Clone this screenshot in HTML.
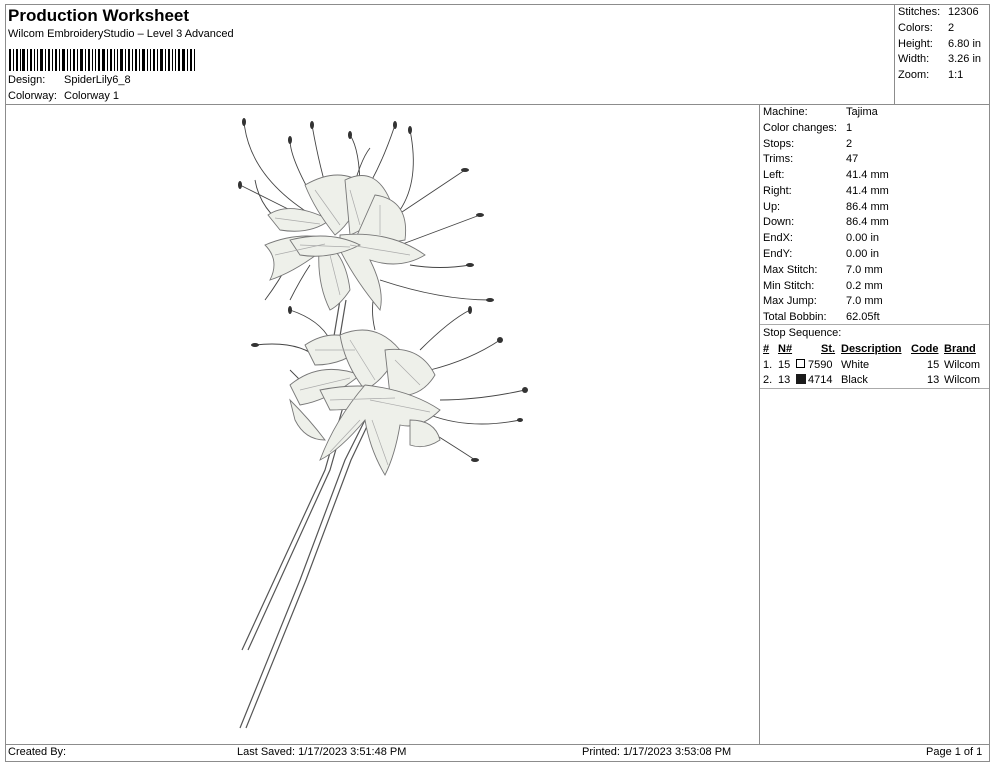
<!DOCTYPE html>
<html><head><meta charset="utf-8"><style>
body{margin:0;width:990px;height:762px;background:#fff;font-family:"Liberation Sans",Arial,sans-serif;color:#000;position:relative;overflow:hidden}
.a{position:absolute;white-space:nowrap;font-size:11px;line-height:13px}
.box{position:absolute;border:1px solid #8c8c8c;box-sizing:border-box}
.u{text-decoration:underline;font-weight:bold}
</style></head><body>
<div class="box" style="left:5px;top:4px;width:985px;height:101px"></div>
<div class="box" style="left:894px;top:4px;width:96px;height:101px"></div>
<div class="box" style="left:5px;top:104px;width:985px;height:641px"></div>
<div class="box" style="left:759px;top:104px;width:231px;height:641px"></div>
<div style="position:absolute;left:760px;top:324px;width:229px;height:1px;background:#aaa"></div>
<div style="position:absolute;left:760px;top:388px;width:229px;height:1px;background:#aaa"></div>
<div class="box" style="left:5px;top:744px;width:985px;height:18px"></div>

<div class="a" style="left:8px;top:6px;font-size:17px;line-height:20px;font-weight:bold">Production Worksheet</div>
<div class="a" style="left:8px;top:28px">Wilcom EmbroideryStudio – Level 3 Advanced</div>
<svg style="position:absolute;left:9px;top:49px" width="186" height="22">
<g fill="#000">
<rect x="0" width="2" height="22"/><rect x="4" width="1" height="22"/><rect x="7" width="2" height="22"/><rect x="11" width="1" height="22"/><rect x="13" width="3" height="22"/><rect x="18" width="1" height="22"/><rect x="21" width="2" height="22"/><rect x="25" width="1" height="22"/><rect x="28" width="1" height="22"/><rect x="31" width="3" height="22"/><rect x="36" width="1" height="22"/><rect x="39" width="2" height="22"/><rect x="43" width="1" height="22"/><rect x="46" width="2" height="22"/><rect x="50" width="1" height="22"/><rect x="53" width="3" height="22"/><rect x="58" width="1" height="22"/><rect x="61" width="1" height="22"/><rect x="64" width="2" height="22"/><rect x="68" width="1" height="22"/><rect x="71" width="3" height="22"/><rect x="76" width="1" height="22"/><rect x="79" width="2" height="22"/><rect x="83" width="1" height="22"/><rect x="86" width="1" height="22"/><rect x="89" width="2" height="22"/><rect x="93" width="3" height="22"/><rect x="98" width="1" height="22"/><rect x="101" width="2" height="22"/><rect x="105" width="1" height="22"/><rect x="108" width="1" height="22"/><rect x="111" width="3" height="22"/><rect x="116" width="1" height="22"/><rect x="119" width="2" height="22"/><rect x="123" width="1" height="22"/><rect x="126" width="2" height="22"/><rect x="130" width="1" height="22"/><rect x="133" width="3" height="22"/><rect x="138" width="1" height="22"/><rect x="141" width="1" height="22"/><rect x="144" width="2" height="22"/><rect x="148" width="1" height="22"/><rect x="151" width="3" height="22"/><rect x="156" width="1" height="22"/><rect x="159" width="2" height="22"/><rect x="163" width="1" height="22"/><rect x="166" width="1" height="22"/><rect x="169" width="2" height="22"/><rect x="173" width="3" height="22"/><rect x="178" width="1" height="22"/><rect x="181" width="2" height="22"/><rect x="185" width="1" height="22"/>
</g></svg>
<div class="a" style="left:8px;top:74px">Design:</div><div class="a" style="left:64px;top:74px">SpiderLily6_8</div>
<div class="a" style="left:8px;top:90px">Colorway:</div><div class="a" style="left:64px;top:90px">Colorway 1</div>

<div class="a" style="left:898px;top:6px">Stitches:</div><div class="a" style="left:948px;top:6px">12306</div>
<div class="a" style="left:898px;top:22px">Colors:</div><div class="a" style="left:948px;top:22px">2</div>
<div class="a" style="left:898px;top:38px">Height:</div><div class="a" style="left:948px;top:38px">6.80 in</div>
<div class="a" style="left:898px;top:53px">Width:</div><div class="a" style="left:948px;top:53px">3.26 in</div>
<div class="a" style="left:898px;top:69px">Zoom:</div><div class="a" style="left:948px;top:69px">1:1</div>

<div class="a" style="left:763px;top:106px">Machine:</div><div class="a" style="left:846px;top:106px">Tajima</div>
<div class="a" style="left:763px;top:122px">Color changes:</div><div class="a" style="left:846px;top:122px">1</div>
<div class="a" style="left:763px;top:138px">Stops:</div><div class="a" style="left:846px;top:138px">2</div>
<div class="a" style="left:763px;top:153px">Trims:</div><div class="a" style="left:846px;top:153px">47</div>
<div class="a" style="left:763px;top:169px">Left:</div><div class="a" style="left:846px;top:169px">41.4 mm</div>
<div class="a" style="left:763px;top:185px">Right:</div><div class="a" style="left:846px;top:185px">41.4 mm</div>
<div class="a" style="left:763px;top:201px">Up:</div><div class="a" style="left:846px;top:201px">86.4 mm</div>
<div class="a" style="left:763px;top:216px">Down:</div><div class="a" style="left:846px;top:216px">86.4 mm</div>
<div class="a" style="left:763px;top:232px">EndX:</div><div class="a" style="left:846px;top:232px">0.00 in</div>
<div class="a" style="left:763px;top:248px">EndY:</div><div class="a" style="left:846px;top:248px">0.00 in</div>
<div class="a" style="left:763px;top:264px">Max Stitch:</div><div class="a" style="left:846px;top:264px">7.0 mm</div>
<div class="a" style="left:763px;top:280px">Min Stitch:</div><div class="a" style="left:846px;top:280px">0.2 mm</div>
<div class="a" style="left:763px;top:295px">Max Jump:</div><div class="a" style="left:846px;top:295px">7.0 mm</div>
<div class="a" style="left:763px;top:311px">Total Bobbin:</div><div class="a" style="left:846px;top:311px">62.05ft</div>
<div class="a" style="left:763px;top:327px">Stop Sequence:</div>
<div class="a u" style="left:763px;top:343px">#</div><div class="a u" style="left:778px;top:343px">N#</div>
<div class="a u" style="left:821px;top:343px">St.</div><div class="a u" style="left:841px;top:343px">Description</div>
<div class="a u" style="left:911px;top:343px">Code</div><div class="a u" style="left:944px;top:343px">Brand</div>
<div class="a" style="left:763px;top:359px">1.</div><div class="a" style="left:778px;top:359px">15</div>
<div style="position:absolute;left:796px;top:359px;width:9px;height:9px;border:1px solid #000;box-sizing:border-box"></div>
<div class="a" style="left:808px;top:359px">7590</div><div class="a" style="left:841px;top:359px">White</div>
<div class="a" style="left:927px;top:359px">15</div><div class="a" style="left:944px;top:359px">Wilcom</div>
<div class="a" style="left:763px;top:374px">2.</div><div class="a" style="left:778px;top:374px">13</div>
<div style="position:absolute;left:796px;top:374px;width:10px;height:10px;background:#1a1a1a"></div>
<div class="a" style="left:808px;top:374px">4714</div><div class="a" style="left:841px;top:374px">Black</div>
<div class="a" style="left:927px;top:374px">13</div><div class="a" style="left:944px;top:374px">Wilcom</div>

<div class="a" style="left:8px;top:746px">Created By:</div>
<div class="a" style="left:237px;top:746px">Last Saved: 1/17/2023 3:51:48 PM</div>
<div class="a" style="left:582px;top:746px">Printed: 1/17/2023 3:53:08 PM</div>
<div class="a" style="left:926px;top:746px">Page 1 of 1</div>

<svg style="position:absolute;left:0;top:0" width="760" height="744">
<g stroke="#555" stroke-width="1.2" fill="none">
<path d="M242 650 L325 470 L345 400"/><path d="M248 650 L330 470 L350 400"/>
<path d="M240 728 L300 580 L345 460 L365 420"/><path d="M246 728 L306 580 L351 460 L370 420"/>
<path d="M340 300 L330 360"/><path d="M346 300 L336 360"/>
</g>
<g stroke="#444" stroke-width="0.9" fill="none">
<path d="M320 220 Q250 180 244 122"/><path d="M300 215 Q270 200 240 185"/><path d="M320 210 Q290 160 290 140"/>
<path d="M330 200 Q320 170 312 125"/><path d="M350 200 Q360 160 370 148"/><path d="M360 200 Q380 170 395 125"/>
<path d="M390 220 Q420 200 465 170"/><path d="M400 245 Q440 230 480 215"/><path d="M410 265 Q440 270 470 265"/>
<path d="M380 280 Q440 300 490 300"/><path d="M290 230 Q260 210 255 180"/><path d="M290 260 Q280 280 265 300"/>
<path d="M310 265 Q300 280 290 300"/><path d="M400 210 Q420 180 410 130"/><path d="M360 190 Q360 150 350 135"/>
<path d="M320 360 Q300 340 255 345"/><path d="M330 340 Q320 320 290 310"/><path d="M420 350 Q450 320 470 310"/>
<path d="M430 370 Q470 360 500 340"/><path d="M440 400 Q480 400 525 390"/><path d="M430 415 Q470 430 520 420"/>
<path d="M420 425 Q460 450 475 460"/><path d="M375 330 Q370 310 375 290"/><path d="M300 380 Q300 380 290 370"/>
</g>
<g fill="#333">
<ellipse cx="244" cy="122" rx="2" ry="4"/><ellipse cx="240" cy="185" rx="2" ry="4"/><ellipse cx="290" cy="140" rx="2" ry="4"/>
<ellipse cx="312" cy="125" rx="2" ry="4"/><ellipse cx="395" cy="125" rx="2" ry="4"/><ellipse cx="465" cy="170" rx="4" ry="2"/>
<ellipse cx="480" cy="215" rx="4" ry="2"/><ellipse cx="470" cy="265" rx="4" ry="2"/><ellipse cx="490" cy="300" rx="4" ry="2"/>
<ellipse cx="410" cy="130" rx="2" ry="4"/><ellipse cx="255" cy="345" rx="4" ry="2"/><ellipse cx="290" cy="310" rx="2" ry="4"/>
<ellipse cx="470" cy="310" rx="2" ry="4"/><ellipse cx="500" cy="340" rx="3" ry="3"/><ellipse cx="525" cy="390" rx="3" ry="3"/>
<ellipse cx="520" cy="420" rx="3" ry="2"/><ellipse cx="475" cy="460" rx="4" ry="2"/><ellipse cx="375" cy="290" rx="2" ry="4"/>
<ellipse cx="350" cy="135" rx="2" ry="4"/>
</g>
<g fill="#eef0ea" stroke="#777" stroke-width="0.9">
<path d="M268 215 Q290 200 330 220 Q310 235 280 230Z"/>
<path d="M265 245 Q300 230 335 240 Q300 270 270 280 Q280 260 265 245Z"/>
<path d="M305 185 Q340 165 365 185 Q355 220 335 235 Q315 210 305 185Z"/>
<path d="M345 180 Q375 165 390 200 Q375 225 350 235Z"/>
<path d="M375 195 Q410 200 405 240 Q380 245 355 240Z"/>
<path d="M340 235 Q390 230 425 255 Q400 270 370 260 Q385 290 380 310 Q355 280 340 250Z"/>
<path d="M320 240 Q345 250 350 290 Q340 305 330 310 Q315 280 320 240Z"/>
<path d="M290 240 Q330 230 360 245 Q330 260 300 255Z"/>
<path d="M305 345 Q335 325 365 345 Q345 365 315 365Z"/>
<path d="M290 385 Q320 360 360 375 Q330 400 300 405Z"/>
<path d="M290 400 Q310 420 325 440 Q305 440 295 420Z"/>
<path d="M340 335 Q375 320 400 350 Q385 380 365 390 Q345 365 340 335Z"/>
<path d="M385 350 Q420 345 435 375 Q420 400 390 395Z"/>
<path d="M320 390 Q370 380 405 395 Q370 410 330 410Z"/>
<path d="M365 385 Q410 390 440 410 Q420 430 400 425 Q395 455 385 475 Q370 450 365 420 Q340 450 320 460 Q335 420 365 385Z"/>
<path d="M410 420 Q435 420 440 440 Q425 450 410 445Z"/>
</g>
<g stroke="#aaa" stroke-width="0.7" fill="none">
<path d="M275 218 L320 224"/><path d="M275 255 L325 244"/><path d="M315 190 L340 225"/><path d="M350 190 L360 225"/>
<path d="M380 205 L380 235"/><path d="M350 245 L410 255"/><path d="M330 255 L340 295"/><path d="M300 245 L350 247"/>
<path d="M315 350 L355 350"/><path d="M300 390 L350 378"/><path d="M350 340 L375 380"/><path d="M395 360 L420 385"/>
<path d="M330 400 L395 398"/><path d="M370 400 L430 412"/><path d="M372 420 L388 465"/><path d="M360 420 L330 452"/>
</g>
</svg>
</body></html>
